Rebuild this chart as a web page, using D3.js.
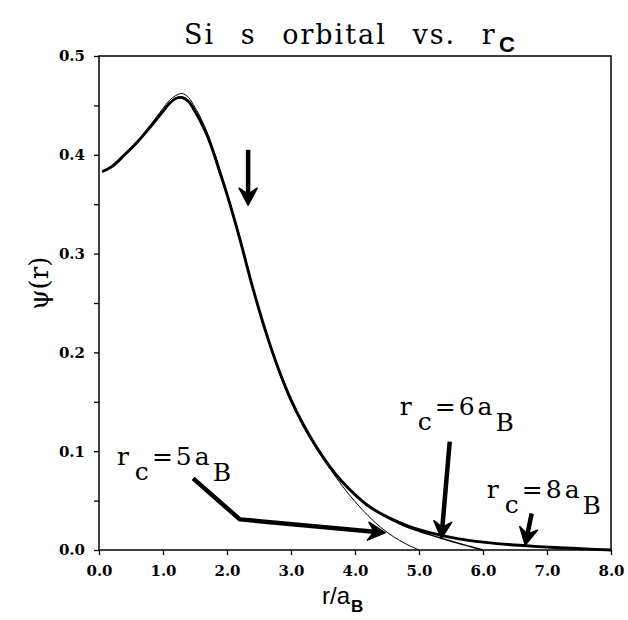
<!DOCTYPE html>
<html lang="en">
<head>
<meta charset="UTF-8">
<title>Si s orbital vs. rc</title>
<script src="https://d3js.org/d3.v7.min.js"></script>
<style>
  body { margin: 0; background: #fff; }
</style>
</head>
<body>
<div id="chart"></div>
<script>

// radial grid shared by the three curves (r / a_B)
const rGrid = [0.05, 0.2, 0.4, 0.6, 0.8, 1.0, 1.1, 1.2, 1.3, 1.4, 1.5, 1.6, 1.7, 1.8, 1.9, 2.0,
  2.2, 2.4, 2.6, 2.8, 3.0, 3.2, 3.4, 3.6, 3.8, 4.0, 4.2, 4.4, 4.6, 4.8, 5.0,
  5.2, 5.4, 5.6, 5.8, 6.0, 6.4, 6.8, 7.2, 7.6, 8.0];

// psi(r) for each confinement radius
const psiRc5 = [0.383, 0.388, 0.400, 0.414, 0.430, 0.447, 0.455, 0.460, 0.462, 0.458, 0.448, 0.436, 0.421, 0.403, 0.383, 0.362,
  0.317, 0.266, 0.221, 0.182, 0.150, 0.124, 0.102, 0.083, 0.065, 0.049, 0.035, 0.023, 0.0135, 0.006, 0.0];
const psiRc6 = [0.383, 0.388, 0.400, 0.413, 0.428, 0.444, 0.452, 0.457, 0.458, 0.454, 0.444, 0.432, 0.418, 0.400, 0.380, 0.360,
  0.315, 0.266, 0.222, 0.184, 0.152, 0.126, 0.104, 0.085, 0.069, 0.056, 0.045, 0.037, 0.0295, 0.0235, 0.019,
  0.0148, 0.0108, 0.007, 0.0035, 0.0];
const psiRc8 = [0.383, 0.388, 0.400, 0.413, 0.428, 0.444, 0.452, 0.457, 0.458, 0.454, 0.444, 0.432, 0.418, 0.400, 0.380, 0.360,
  0.315, 0.266, 0.222, 0.184, 0.152, 0.126, 0.104, 0.085, 0.069, 0.056, 0.045, 0.037, 0.0305, 0.025, 0.0205,
  0.017, 0.014, 0.0115, 0.0095, 0.008, 0.0055, 0.0037, 0.0023, 0.0011, 0.0];

const xTicks = [0, 1, 2, 3, 4, 5, 6, 7, 8];
const yTicks = [0, 0.05, 0.1, 0.15, 0.2, 0.25, 0.3, 0.35, 0.4, 0.45, 0.5];

// annotation arrows, in data units
const arrowPeak = [[2.33, 0.405], [2.33, 0.349]];
const arrowRc5 = [[1.47, 0.0725], [2.20, 0.031], [4.47, 0.0175]];
const arrowRc6 = [[5.48, 0.1097], [5.35, 0.0118]];
const arrowRc8 = [[6.76, 0.037], [6.66, 0.005]];

// labels: which rc, anchored at [r, psi]
const labelNames = ['5', '6', '8'];
const labelAnchors = [[0.28, 0.086], [4.70, 0.1366], [6.06, 0.0526]];

const width = 628, height = 620;
const margin = {top: 56, right: 17, bottom: 70, left: 99};

const svg = d3.select('#chart').append('svg')
    .attr('width', width)
    .attr('height', height)
    .style('font-family', 'DejaVu Serif');

const x = d3.scaleLinear().domain([0, 8]).range([margin.left, width - margin.right]);
const y = d3.scaleLinear().domain([0, 0.5]).range([height - margin.bottom, margin.top]);

//axes
const yAxis = d3.axisLeft(y)
    .tickValues(yTicks)
    .tickSize(5)
    .tickPadding(9)
    .tickFormat(d => (Math.round(d * 100) % 10 === 0) ? d3.format('.1f')(d) : '');
const gy = svg.append('g')
    .attr('transform', `translate(${margin.left},0)`)
    .call(yAxis);

const xAxis = d3.axisBottom(x)
    .tickValues(xTicks)
    .tickSize(5)
    .tickPadding(10)
    .tickFormat(d3.format('.1f'));
const gx = svg.append('g')
    .attr('transform', `translate(0,${height - margin.bottom})`)
    .call(xAxis);

[gx, gy].forEach(g => {
  g.select('.domain').remove();
  g.selectAll('line').attr('stroke', '#000').attr('stroke-width', 1.3);
  g.selectAll('text')
    .attr('fill', '#000')
    .style('font-family', 'DejaVu Serif')
    .style('font-weight', 'bold')
    .style('font-size', '15px');
});

// frame
svg.append('rect')
    .attr('x', x(0)).attr('y', y(0.5))
    .attr('width', x(8) - x(0)).attr('height', y(0) - y(0.5))
    .attr('fill', 'none')
    .attr('stroke', '#000')
    .attr('stroke-width', 1.5);

//curves
const line = d3.line()
    .x(d => x(d[0]))
    .y(d => y(d[1]))
    .curve(d3.curveCatmullRom.alpha(0.5));

const series = [
  {vals: psiRc8, w: 2.9},
  {vals: psiRc6, w: 1.5},
  {vals: psiRc5, w: 1.0}
];
series.forEach(s => {
  svg.append('path')
    .datum(s.vals.map((v, i) => [rGrid[i], v]))
    .attr('d', line)
    .attr('fill', 'none')
    .attr('stroke', '#000')
    .attr('stroke-width', s.w)
    .attr('stroke-linejoin', 'round');
});

// arrows: thick shaft + barbed head
function drawArrow(pts) {
  const p = pts.map(d => [x(d[0]), y(d[1])]);
  const tip = p[p.length - 1], prev = p[p.length - 2];
  const dx = tip[0] - prev[0], dy = tip[1] - prev[1];
  const len = Math.hypot(dx, dy);
  const ux = dx / len, uy = dy / len;
  const nx = -uy, ny = ux;
  const L = 17, W = 9, notch = 6;
  const back = [tip[0] - (L - notch) * ux, tip[1] - (L - notch) * uy];
  const shaft = p.slice(0, -1).concat([back]);
  svg.append('path')
    .attr('d', d3.line()(shaft))
    .attr('fill', 'none')
    .attr('stroke', '#000')
    .attr('stroke-width', 4.5)
    .attr('stroke-linejoin', 'round');
  const head = [
    tip,
    [tip[0] - L * ux + W * nx, tip[1] - L * uy + W * ny],
    back,
    [tip[0] - L * ux - W * nx, tip[1] - L * uy - W * ny]
  ];
  svg.append('path')
    .attr('d', d3.line()(head) + 'Z')
    .attr('fill', '#000')
    .attr('stroke', '#000')
    .attr('stroke-width', 1.5)
    .attr('stroke-linejoin', 'round');
}
[arrowPeak, arrowRc5, arrowRc6, arrowRc8].forEach(drawArrow);

// rc labels
labelNames.forEach((n, i) => {
  const t = svg.append('text')
    .attr('x', x(labelAnchors[i][0]))
    .attr('y', y(labelAnchors[i][1]))
    .style('font-size', '25px')
    .style('letter-spacing', '3px')
    .attr('fill', '#000');
  t.append('tspan').text('r');
  t.append('tspan').attr('dx', 3).attr('dy', 15).text('c');
  t.append('tspan').attr('dy', -15).text('=' + n + 'a');
  t.append('tspan').attr('dy', 16).text('B');
});

// title
svg.append('text')
    .attr('x', 184)
    .attr('y', 44)
    .style('font-size', '27px')
    .style('letter-spacing', '2px')
    .style('word-spacing', '15px')
    .attr('fill', '#000')
    .text('Si s orbital vs. r');
svg.append('text')
    .attr('x', 499)
    .attr('y', 52)
    .style('font-family', 'Liberation Sans')
    .style('font-weight', 'bold')
    .style('font-size', '22px')
    .attr('fill', '#000')
    .text('C');

// x label
const xl = svg.append('text')
    .attr('x', 322)
    .attr('y', 604)
    .style('font-family', 'Liberation Sans')
    .style('font-size', '24px')
    .attr('fill', '#000');
xl.append('tspan').text('r/a');
xl.append('tspan').attr('dx', 1).attr('dy', 8).style('font-size', '17px').style('font-weight', 'bold').text('B');

// y label
svg.append('text')
    .attr('transform', `translate(48,${y(0.27)}) rotate(-90)`)
    .attr('text-anchor', 'middle')
    .style('font-size', '26px')
    .attr('fill', '#000')
    .text('ψ(r)');

</script>
</body>
</html>
